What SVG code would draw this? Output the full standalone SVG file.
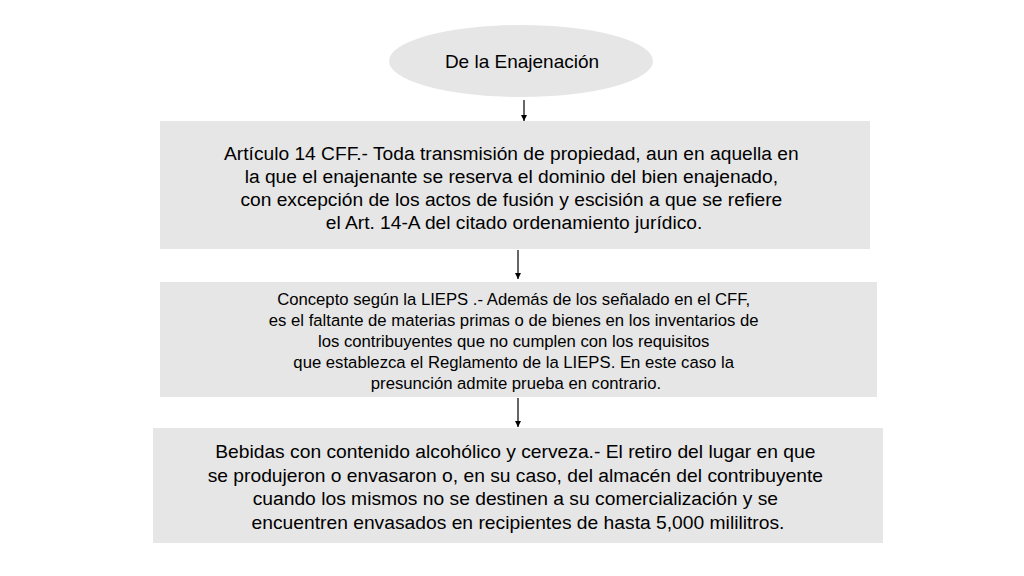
<svg xmlns="http://www.w3.org/2000/svg" width="1024" height="576" viewBox="0 0 1024 576">
<style>
.box{fill:#e6e6e6;}
.t{font-family:"Liberation Sans",Arial,sans-serif;fill:#000;text-anchor:middle;}
.c{stroke:#000;stroke-width:1.2;fill:none;}
</style>
<defs>
<marker id="ah" viewBox="0 0 10 10" refX="10" refY="5" markerWidth="6" markerHeight="6" markerUnits="userSpaceOnUse" orient="auto">
<path d="M0,0 L10,5 L0,10 z" fill="#000"/>
</marker>
</defs>
<rect width="1024" height="576" fill="#fff"/>
<g id="n0">
<ellipse cx="521" cy="61" rx="132" ry="36" class="box"/>
<text class="t" x="522" y="68" font-size="19">De la Enajenación</text>
</g>
<g id="n1">
<rect x="160" y="121" width="710" height="128" class="box"/>
<text class="t" font-size="19.2">
<tspan x="514" y="160">Artículo 14 CFF.- Toda transmisión de propiedad, aun en aquella en</tspan>
<tspan x="514" y="183">la que el enajenante se reserva el dominio del bien enajenado,</tspan>
<tspan x="514" y="206">con excepción de los actos de fusión y escisión a que se refiere</tspan>
<tspan x="514" y="229">el Art. 14-A del citado ordenamiento jurídico.</tspan>
</text>
</g>
<g id="n2">
<rect x="160" y="282" width="717" height="115" class="box"/>
<text class="t" font-size="16.7">
<tspan x="516" y="305">Concepto según la LIEPS .- Además de los señalado en el CFF,</tspan>
<tspan x="516" y="326">es el faltante de materias primas o de bienes en los inventarios de</tspan>
<tspan x="516" y="347">los contribuyentes que no cumplen con los requisitos</tspan>
<tspan x="516" y="368">que establezca el Reglamento de la LIEPS. En este caso la</tspan>
<tspan x="516" y="389">presunción admite prueba en contrario.</tspan>
</text>
</g>
<g id="n3">
<rect x="153" y="428" width="730" height="115" class="box"/>
<text class="t" font-size="19.25">
<tspan x="518" y="458">Bebidas con contenido alcohólico y cerveza.- El retiro del lugar en que</tspan>
<tspan x="518" y="482">se produjeron o envasaron o, en su caso, del almacén del contribuyente</tspan>
<tspan x="518" y="505">cuando los mismos no se destinen a su comercialización y se</tspan>
<tspan x="518" y="529">encuentren envasados en recipientes de hasta 5,000 mililitros.</tspan>
</text>
</g>
<g id="connectors">
<line x1="524" y1="100" x2="524" y2="121" class="c" marker-end="url(#ah)"/>
<line x1="518" y1="250" x2="518" y2="279" class="c" marker-end="url(#ah)"/>
<line x1="518" y1="398" x2="518" y2="427" class="c" marker-end="url(#ah)"/>
</g>
</svg>
